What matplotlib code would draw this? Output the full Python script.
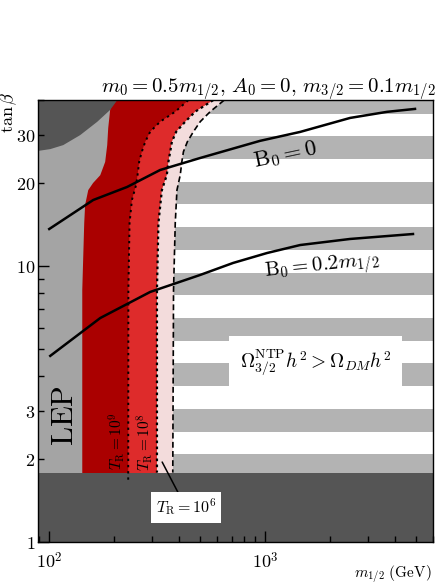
import matplotlib
matplotlib.use("Agg")
import matplotlib.pyplot as plt
from matplotlib.patches import Rectangle
from matplotlib.ticker import FixedLocator, FuncFormatter, LogLocator, NullFormatter
import numpy as np

plt.rcParams["mathtext.fontset"] = "cm"
plt.rcParams["font.family"] = "DejaVu Serif"

# boundaries: tan(beta) vs m_1/2 (GeV)
lep_tanb = [40, 31.7, 27.5, 23.9, 21.4, 20.05, 18.9, 16.7, 14.36, 8.21, 1.0]
lep_m12 = [194, 188, 186, 182, 172.7, 160, 152, 147, 145.6, 142.6, 142.6]

tr9_tanb = [40, 36.35, 33.44, 30.76, 28.3, 26.04, 23.95, 21.44, 19.72, 17.4, 14.36, 8.21, 1.68]
tr9_m12 = [441, 384, 327, 294, 279, 269, 261.5, 257, 253, 242, 236, 233, 232.6]

tr8_tanb = [40, 36.35, 33.44, 30.76, 28.3, 26.04, 23.95, 21.44, 18.9, 14.36, 8.21, 1.79]
tr8_m12 = [575, 475, 427, 388, 370.5, 364, 357, 351, 333, 321, 316, 316]

tr6_tanb = [40, 36.35, 33.44, 30.76, 28.3, 26.04, 23.95, 21.44, 18.9, 14.36, 8.21, 1.79]
tr6_m12 = [646, 557, 501, 466, 437, 419, 412, 405, 391, 384, 377, 374]

corner_m12 = [50, 89, 101.4, 116.4, 139.5, 167.2, 192, 207]
corner_tanb = [26.2, 26.2, 26.6, 27.5, 29.9, 33.4, 36.9, 40]

tanb_low = 1.79  # excluded strip at the bottom

b0_m12 = [100.3, 160.3, 230, 327, 500.6, 948, 1452, 2472, 3665, 4937]
b0_tanb = [13.66, 17.4, 19.4, 22.35, 24.7, 28.5, 30.7, 34.5, 36.3, 37.2]

b02_m12 = [101.4, 172.7, 294, 500.6, 711, 1021, 1452, 2472, 4833]
b02_tanb = [4.74, 6.50, 8.08, 9.31, 10.29, 11.18, 11.95, 12.57, 13.1]

ytick_labels = [1, 2, 3, 10, 20, 30]

XMIN, XMAX = 89, 6000
YMIN, YMAX = 1, 40

C_DARK = "#555555"
C_LEP = "#a4a4a4"
C_STRIPE = "#b3b3b3"
C_RED1 = "#aa0000"
C_RED2 = "#de2b2b"
C_PINK = "#f3dcdc"

fig = plt.figure(figsize=(4.36, 5.86), dpi=100)
ax = fig.add_axes([0.0872, 0.0744, 0.9066, 0.7546])
ax.set_xscale("log")
ax.set_yscale("log")
ax.set_xlim(XMIN, XMAX)
ax.set_ylim(YMIN, YMAX)

# horizontal grey stripes of the Omega region (fixed pixel pitch)
period, first = 0.1027, 0.148
for k in range(9):
    ax.add_patch(Rectangle((0, first + k * period), 1, period / 2, transform=ax.transAxes,
                           facecolor=C_STRIPE, edgecolor="none", zorder=0.2))


def left_fill(m12, tanb, color, z):
    xs = [1.0] + list(m12) + [1.0]
    ys = [tanb[0]] + list(tanb) + [tanb[-1]]
    ax.fill(xs, ys, color=color, lw=0, zorder=z)


left_fill(tr6_m12, tr6_tanb[:-1] + [1.0], C_PINK, 1.0)
left_fill(tr8_m12, tr8_tanb[:-1] + [1.0], C_RED2, 1.1)
left_fill(tr9_m12, tr9_tanb[:-1] + [1.0], C_RED1, 1.2)
left_fill(lep_m12, lep_tanb, C_LEP, 1.3)
ax.fill(corner_m12 + [50], corner_tanb + [YMAX], color=C_DARK, lw=0, zorder=1.4)
ax.axhspan(YMIN, tanb_low, color=C_DARK, lw=0, zorder=1.5)

ax.plot(tr9_m12, tr9_tanb, color="black", ls=(0, (1.2, 2.0)), lw=1.4, zorder=2)
ax.plot(tr8_m12, tr8_tanb, color="black", ls=(0, (1.2, 1.5)), lw=1.6, zorder=2)
ax.plot(tr6_m12, tr6_tanb, color="black", ls=(0, (3.5, 2)), lw=1.2, zorder=2)

ax.plot(b0_m12, b0_tanb, color="black", lw=1.8, zorder=2.2)
ax.plot(b02_m12, b02_tanb, color="black", lw=1.8, zorder=2.2)

ax.text(0.625, 0.876, r"$\mathrm{B}_0 = 0$", transform=ax.transAxes, fontsize=16.5,
        rotation=12, ha="center", va="center", zorder=3)
ax.text(0.718, 0.62, r"$\mathrm{B}_0 = 0.2m_{1/2}$", transform=ax.transAxes, fontsize=15,
        rotation=6, ha="center", va="center", zorder=3)
ax.text(0.703, 0.408, r"$\Omega^{\rm NTP}_{3/2}h^2 > \Omega_{DM}h^2$", transform=ax.transAxes,
        fontsize=14, ha="center", va="center", zorder=3,
        bbox=dict(boxstyle="square,pad=0.55", facecolor="white", edgecolor="none"))
ax.text(0.066, 0.286, r"$\mathrm{LEP}$", transform=ax.transAxes, fontsize=22,
        rotation=90, ha="center", va="center", zorder=3)
ax.text(0.2, 0.229, r"$T_{\rm R}=10^9$", transform=ax.transAxes, fontsize=11,
        rotation=90, ha="center", va="center", zorder=3)
ax.text(0.27, 0.227, r"$T_{\rm R}=10^8$", transform=ax.transAxes, fontsize=11,
        rotation=90, ha="center", va="center", zorder=3)
ax.annotate(r"$T_{\rm R}=10^6$", xy=(334, 1.955), xytext=(0.374, 0.079),
            textcoords="axes fraction", fontsize=11.5, ha="center", va="center", zorder=3,
            bbox=dict(boxstyle="square,pad=0.3", facecolor="white", edgecolor="none"),
            arrowprops=dict(arrowstyle="-", color="black", lw=1.1, shrinkA=0, shrinkB=0))

# ticks
ax.xaxis.set_major_locator(FixedLocator([100, 1000]))
ax.xaxis.set_minor_locator(LogLocator(base=10, subs=np.arange(2, 10)))
ax.xaxis.set_major_formatter(FuncFormatter(lambda v, p: r"$10^{%d}$" % round(np.log10(v))))
ax.xaxis.set_minor_formatter(NullFormatter())

ax.yaxis.set_major_locator(FixedLocator([1, 10]))
ax.yaxis.set_minor_locator(FixedLocator([2, 3, 4, 5, 6, 7, 8, 9, 20, 30, 40]))
yfmt = FuncFormatter(lambda v, p: r"$%g$" % v if round(v) in ytick_labels else "")
ax.yaxis.set_major_formatter(yfmt)
ax.yaxis.set_minor_formatter(yfmt)

ax.tick_params(which="both", direction="in", top=False, right=False, labelsize=13, width=1)
ax.tick_params(which="major", length=8)
ax.tick_params(which="minor", length=4.5)
ax.tick_params(axis="x", which="both", pad=7)
ax.tick_params(axis="y", which="both", pad=2)
for s in ax.spines.values():
    s.set_linewidth(1.0)
    s.set_zorder(4)

fig.text(0.9995, 1 - 93 / 586, r"$m_0 = 0.5m_{1/2},\, A_0 = 0,\, m_{3/2} = 0.1m_{1/2}$",
         ha="right", va="baseline", fontsize=15)
fig.text(9 / 436, 1 - 112 / 586, r"$\tan\beta$", rotation=90, ha="center", va="center",
         fontsize=13)
fig.text(432 / 436, 1 - 574 / 586, r"$m_{1/2}\ (\mathrm{GeV})$", ha="right", va="center",
         fontsize=11)

fig.savefig("out.png", dpi=100)
